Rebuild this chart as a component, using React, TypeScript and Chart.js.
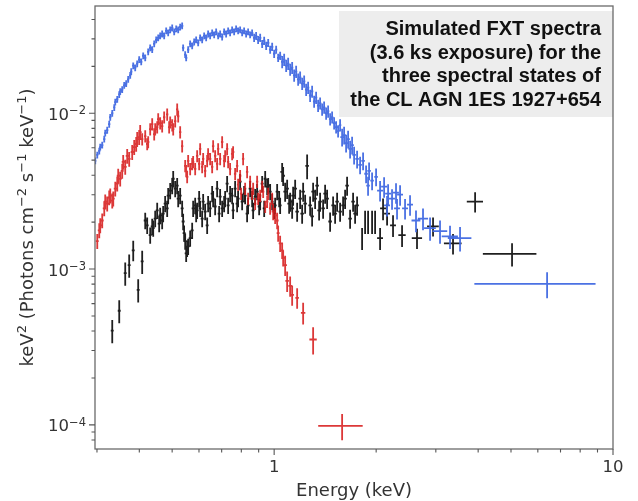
import React, { useEffect, useRef } from 'react';
import { Chart, registerables } from 'chart.js';

Chart.register(...registerables);

// Each row: [energy (keV), keV^2 flux, energy relative half-width, flux relative error]
type Row = [number, number, number, number];

const blackSpectrum: Row[] = [
  [0.3328, 4.03e-4, 0.01, 0.17], [0.3490, 5.40e-4, 0.01, 0.17], [0.3635, 9.43e-4, 0.01, 0.17],
  [0.3734, 1.06e-3, 0.01, 0.17], [0.3838, 1.32e-3, 0.01, 0.15], [0.3970, 7.35e-4, 0.01, 0.17],
  [0.4079, 1.12e-3, 0.01, 0.17],
  [0.4164, 2.05e-3, 0.01, 0.12], [0.4220, 1.91e-3, 0.01, 0.12], [0.4307, 1.65e-3, 0.01, 0.12],
  [0.4366, 1.88e-3, 0.01, 0.12], [0.4396, 1.83e-3, 0.01, 0.12], [0.4456, 2.11e-3, 0.01, 0.12],
  [0.4517, 2.38e-3, 0.01, 0.12], [0.4578, 1.96e-3, 0.01, 0.12], [0.4609, 2.21e-3, 0.01, 0.12],
  [0.4672, 2.05e-3, 0.01, 0.12], [0.4704, 2.27e-3, 0.01, 0.12], [0.4768, 2.63e-3, 0.01, 0.12],
  [0.4834, 2.45e-3, 0.01, 0.12], [0.4867, 2.96e-3, 0.01, 0.12], [0.4934, 3.19e-3, 0.01, 0.12],
  [0.5002, 3.43e-3, 0.01, 0.12], [0.5036, 3.80e-3, 0.01, 0.12], [0.5105, 3.28e-3, 0.01, 0.12],
  [0.5174, 3.43e-3, 0.01, 0.12], [0.5210, 2.83e-3, 0.01, 0.12], [0.5280, 2.96e-3, 0.01, 0.12],
  [0.5352, 2.45e-3, 0.01, 0.12], [0.5388, 2.02e-3, 0.01, 0.12], [0.5424, 1.70e-3, 0.01, 0.12],
  [0.5463, 1.51e-3, 0.01, 0.12], [0.5500, 1.26e-3, 0.01, 0.12], [0.5537, 1.36e-3, 0.01, 0.12],
  [0.5575, 1.40e-3, 0.01, 0.12], [0.5651, 1.58e-3, 0.01, 0.12], [0.5729, 1.77e-3, 0.01, 0.12],
  [0.5767, 2.45e-3, 0.01, 0.12], [0.5847, 2.56e-3, 0.01, 0.12], [0.5886, 2.27e-3, 0.01, 0.12],
  [0.5926, 2.38e-3, 0.01, 0.12], [0.6007, 2.83e-3, 0.01, 0.12], [0.6048, 2.45e-3, 0.01, 0.12],
  [0.6131, 2.11e-3, 0.01, 0.12], [0.6173, 2.71e-3, 0.01, 0.12], [0.6257, 2.34e-3, 0.01, 0.12],
  [0.6343, 1.91e-3, 0.01, 0.12], [0.6385, 2.63e-3, 0.01, 0.12], [0.6473, 2.45e-3, 0.01, 0.12],
  [0.6562, 3.05e-3, 0.01, 0.12], [0.6606, 2.83e-3, 0.01, 0.12], [0.6697, 2.52e-3, 0.01, 0.12],
  [0.6788, 3.28e-3, 0.01, 0.12], [0.6881, 2.27e-3, 0.01, 0.12], [0.6928, 2.92e-3, 0.01, 0.12],
  [0.7023, 2.45e-3, 0.01, 0.12], [0.7119, 2.63e-3, 0.01, 0.12], [0.7168, 2.83e-3, 0.01, 0.12],
  [0.7265, 3.53e-3, 0.01, 0.12], [0.7315, 2.56e-3, 0.01, 0.12], [0.7414, 3.05e-3, 0.01, 0.12],
  [0.7516, 2.96e-3, 0.01, 0.12], [0.7567, 2.38e-3, 0.01, 0.12], [0.7671, 3.28e-3, 0.01, 0.12],
  [0.7775, 2.63e-3, 0.01, 0.12], [0.7828, 2.83e-3, 0.01, 0.12], [0.7936, 3.64e-3, 0.01, 0.12],
  [0.8045, 2.71e-3, 0.01, 0.12], [0.8155, 3.05e-3, 0.01, 0.12], [0.8211, 2.96e-3, 0.01, 0.12],
  [0.8322, 2.27e-3, 0.01, 0.12], [0.8379, 2.56e-3, 0.01, 0.12], [0.8494, 3.28e-3, 0.01, 0.12],
  [0.8610, 2.83e-3, 0.01, 0.12], [0.8669, 2.38e-3, 0.01, 0.12], [0.8788, 2.92e-3, 0.01, 0.12],
  [0.8908, 3.14e-3, 0.01, 0.12], [0.9031, 2.52e-3, 0.01, 0.12], [0.9094, 2.71e-3, 0.01, 0.12],
  [0.9218, 3.53e-3, 0.01, 0.12], [0.9345, 2.45e-3, 0.01, 0.12], [0.9409, 3.80e-3, 0.01, 0.12],
  [0.9537, 3.38e-3, 0.01, 0.12], [0.9603, 3.43e-3, 0.01, 0.12], [0.9732, 3.14e-3, 0.01, 0.12],
  [0.9866, 2.71e-3, 0.01, 0.12], [1.0000, 2.38e-3, 0.01, 0.12], [1.0068, 2.56e-3, 0.01, 0.12],
  [1.0206, 3.14e-3, 0.01, 0.12], [1.0346, 2.83e-3, 0.01, 0.12], [1.0416, 2.56e-3, 0.01, 0.12],
  [1.0559, 4.21e-3, 0.012, 0.14], [1.0631, 3.97e-3, 0.012, 0.14], [1.0776, 3.14e-3, 0.012, 0.14],
  [1.0923, 3.28e-3, 0.012, 0.14], [1.1072, 2.63e-3, 0.012, 0.14], [1.1148, 2.71e-3, 0.012, 0.14],
  [1.1301, 2.45e-3, 0.012, 0.14], [1.1377, 2.96e-3, 0.012, 0.14], [1.1534, 3.28e-3, 0.012, 0.14],
  [1.1691, 2.34e-3, 0.012, 0.14], [1.1931, 2.83e-3, 0.012, 0.14], [1.2095, 2.27e-3, 0.012, 0.14],
  [1.2177, 3.14e-3, 0.012, 0.14], [1.2344, 2.63e-3, 0.012, 0.14], [1.2512, 4.60e-3, 0.012, 0.18],
  [1.2769, 2.56e-3, 0.012, 0.14], [1.2944, 2.18e-3, 0.012, 0.14], [1.3032, 3.14e-3, 0.012, 0.14],
  [1.3211, 2.83e-3, 0.012, 0.14], [1.3391, 3.43e-3, 0.012, 0.14], [1.3573, 2.38e-3, 0.012, 0.14],
  [1.3666, 2.71e-3, 0.012, 0.14], [1.3947, 2.45e-3, 0.012, 0.14], [1.4139, 3.05e-3, 0.012, 0.14],
  [1.4332, 2.83e-3, 0.012, 0.14], [1.4627, 2.02e-3, 0.012, 0.14], [1.4928, 2.56e-3, 0.012, 0.14],
  [1.5133, 2.27e-3, 0.012, 0.14], [1.5340, 2.71e-3, 0.012, 0.14], [1.5654, 2.34e-3, 0.012, 0.14],
  [1.5976, 2.56e-3, 0.012, 0.14], [1.6195, 2.83e-3, 0.012, 0.14], [1.6416, 3.43e-3, 0.012, 0.14],
  [1.6754, 2.11e-3, 0.012, 0.14], [1.7099, 2.71e-3, 0.012, 0.14], [1.7334, 2.27e-3, 0.012, 0.14],
  [1.7570, 2.56e-3, 0.012, 0.14],
  [1.8178, 1.58e-3, 0.006, 0.16], [1.8553, 2.02e-3, 0.006, 0.17], [1.8932, 2.02e-3, 0.006, 0.17],
  [1.9455, 2.02e-3, 0.006, 0.17], [1.9856, 2.02e-3, 0.006, 0.17],
  [2.054, 1.58e-3, 0.02, 0.16], [2.096, 2.45e-3, 0.02, 0.16], [2.154, 2.27e-3, 0.02, 0.16],
  [2.243, 1.91e-3, 0.02, 0.16], [2.385, 1.65e-3, 0.025, 0.16], [2.640, 1.58e-3, 0.035, 0.15],
  [2.944, 1.88e-3, 0.04, 0.14], [3.372, 1.46e-3, 0.06, 0.15], [3.918, 2.71e-3, 0.055, 0.15],
  [5.036, 1.25e-3, 0.18, 0.17],
];

const blueSpectrum: Row[] = [
  [0.2965, 4.95e-3, 0.008, 0.05], [0.3006, 5.40e-3, 0.008, 0.05], [0.3047, 5.73e-3, 0.008, 0.05],
  [0.3067, 6.07e-3, 0.008, 0.05], [0.3109, 6.25e-3, 0.008, 0.05], [0.3152, 6.83e-3, 0.008, 0.05],
  [0.3173, 7.46e-3, 0.008, 0.05], [0.3216, 7.79e-3, 0.008, 0.05], [0.3260, 8.51e-3, 0.008, 0.05],
  [0.3283, 9.43e-3, 0.008, 0.05], [0.3328, 1.00e-2, 0.008, 0.05], [0.3374, 1.09e-2, 0.008, 0.05],
  [0.3397, 1.18e-2, 0.008, 0.05], [0.3443, 1.23e-2, 0.008, 0.05], [0.3490, 1.32e-2, 0.008, 0.05],
  [0.3513, 1.38e-2, 0.008, 0.05], [0.3561, 1.42e-2, 0.008, 0.05], [0.3610, 1.51e-2, 0.008, 0.05],
  [0.3659, 1.55e-2, 0.008, 0.05], [0.3709, 1.65e-2, 0.008, 0.05], [0.3760, 1.75e-2, 0.008, 0.05],
  [0.3786, 1.85e-2, 0.008, 0.05], [0.3838, 2.02e-2, 0.008, 0.05], [0.3890, 1.96e-2, 0.008, 0.05],
  [0.3943, 2.08e-2, 0.008, 0.05], [0.3997, 2.21e-2, 0.008, 0.05], [0.4052, 2.14e-2, 0.008, 0.05],
  [0.4107, 2.34e-2, 0.008, 0.05], [0.4164, 2.27e-2, 0.008, 0.05], [0.4249, 2.48e-2, 0.008, 0.05],
  [0.4307, 2.63e-2, 0.008, 0.05], [0.4366, 2.56e-2, 0.008, 0.05], [0.4426, 2.79e-2, 0.008, 0.05],
  [0.4486, 2.96e-2, 0.008, 0.05], [0.4548, 3.05e-2, 0.008, 0.05], [0.4609, 3.14e-2, 0.008, 0.05],
  [0.4672, 3.23e-2, 0.008, 0.05], [0.4736, 3.14e-2, 0.008, 0.05], [0.4801, 3.38e-2, 0.008, 0.05],
  [0.4867, 3.28e-2, 0.008, 0.05], [0.4934, 3.43e-2, 0.008, 0.05], [0.5002, 3.53e-2, 0.008, 0.05],
  [0.5070, 3.33e-2, 0.008, 0.05], [0.5140, 3.48e-2, 0.008, 0.05], [0.5210, 3.43e-2, 0.008, 0.05],
  [0.5280, 3.58e-2, 0.008, 0.05], [0.5352, 3.64e-2, 0.008, 0.05],
  [0.5388, 2.63e-2, 0.008, 0.05], [0.5463, 2.38e-2, 0.008, 0.05], [0.5500, 2.27e-2, 0.008, 0.05],
  [0.5575, 2.56e-2, 0.008, 0.05], [0.5651, 2.79e-2, 0.008, 0.05], [0.5729, 2.71e-2, 0.008, 0.05],
  [0.5807, 2.87e-2, 0.008, 0.05], [0.5886, 2.96e-2, 0.008, 0.05], [0.5967, 2.83e-2, 0.008, 0.05],
  [0.6048, 3.05e-2, 0.008, 0.05], [0.6131, 2.96e-2, 0.008, 0.05], [0.6215, 3.14e-2, 0.008, 0.05],
  [0.6300, 3.05e-2, 0.008, 0.05], [0.6385, 3.23e-2, 0.008, 0.05], [0.6473, 3.14e-2, 0.008, 0.05],
  [0.6562, 3.28e-2, 0.008, 0.05], [0.6652, 3.19e-2, 0.008, 0.05], [0.6743, 3.33e-2, 0.008, 0.05],
  [0.6835, 3.14e-2, 0.008, 0.05], [0.6928, 3.23e-2, 0.008, 0.05], [0.7023, 3.09e-2, 0.008, 0.05],
  [0.7119, 3.33e-2, 0.008, 0.05], [0.7216, 3.23e-2, 0.008, 0.05], [0.7315, 3.38e-2, 0.008, 0.05],
  [0.7414, 3.28e-2, 0.008, 0.05], [0.7516, 3.43e-2, 0.008, 0.05], [0.7619, 3.33e-2, 0.008, 0.05],
  [0.7722, 3.48e-2, 0.008, 0.05], [0.7828, 3.38e-2, 0.008, 0.05], [0.7936, 3.43e-2, 0.008, 0.05],
  [0.8045, 3.28e-2, 0.008, 0.05], [0.8155, 3.38e-2, 0.008, 0.05], [0.8266, 3.23e-2, 0.008, 0.05],
  [0.8379, 3.33e-2, 0.008, 0.05], [0.8494, 3.19e-2, 0.008, 0.05], [0.8610, 3.28e-2, 0.008, 0.05],
  [0.8728, 3.05e-2, 0.008, 0.06], [0.8847, 3.14e-2, 0.008, 0.06], [0.8968, 2.96e-2, 0.008, 0.06],
  [0.9094, 3.05e-2, 0.008, 0.06], [0.9218, 2.79e-2, 0.008, 0.06], [0.9345, 2.92e-2, 0.008, 0.06],
  [0.9472, 2.71e-2, 0.008, 0.06], [0.9603, 2.83e-2, 0.008, 0.06], [0.9732, 2.56e-2, 0.008, 0.06],
  [0.9866, 2.67e-2, 0.008, 0.06], [1.0000, 2.41e-2, 0.008, 0.06], [1.0137, 2.56e-2, 0.008, 0.06],
  [1.0276, 2.27e-2, 0.008, 0.06], [1.0416, 2.34e-2, 0.008, 0.06],
  [1.0559, 2.14e-2, 0.008, 0.09], [1.0703, 2.21e-2, 0.008, 0.09], [1.0850, 2.02e-2, 0.008, 0.09],
  [1.0998, 2.08e-2, 0.008, 0.09], [1.1148, 1.91e-2, 0.008, 0.09], [1.1301, 1.96e-2, 0.008, 0.09],
  [1.1455, 1.75e-2, 0.008, 0.09], [1.1612, 1.85e-2, 0.008, 0.09], [1.1771, 1.65e-2, 0.008, 0.09],
  [1.1931, 1.70e-2, 0.008, 0.09], [1.2095, 1.55e-2, 0.008, 0.09], [1.2262, 1.60e-2, 0.008, 0.09],
  [1.2428, 1.42e-2, 0.008, 0.09], [1.2597, 1.46e-2, 0.008, 0.09], [1.2769, 1.30e-2, 0.008, 0.09],
  [1.2944, 1.38e-2, 0.008, 0.09], [1.3121, 1.19e-2, 0.008, 0.09], [1.3300, 1.26e-2, 0.008, 0.09],
  [1.3482, 1.12e-2, 0.008, 0.09], [1.3666, 1.16e-2, 0.008, 0.09], [1.3853, 1.06e-2, 0.008, 0.09],
  [1.4043, 1.09e-2, 0.008, 0.09], [1.4235, 1.00e-2, 0.008, 0.09], [1.4429, 1.03e-2, 0.008, 0.09],
  [1.4627, 9.16e-3, 0.008, 0.09], [1.4827, 9.43e-3, 0.008, 0.09], [1.5030, 8.64e-3, 0.008, 0.09],
  [1.5235, 8.14e-3, 0.008, 0.09], [1.5443, 7.68e-3, 0.008, 0.09], [1.5654, 8.39e-3, 0.008, 0.09],
  [1.5868, 7.03e-3, 0.012, 0.13], [1.6086, 7.24e-3, 0.012, 0.13], [1.6305, 6.44e-3, 0.012, 0.13],
  [1.6528, 6.83e-3, 0.012, 0.13], [1.6754, 5.90e-3, 0.012, 0.13], [1.6983, 6.25e-3, 0.012, 0.13],
  [1.7216, 5.40e-3, 0.012, 0.13], [1.7570, 5.09e-3, 0.012, 0.13], [1.7932, 4.66e-3, 0.012, 0.13],
  [1.8301, 4.95e-3, 0.012, 0.13], [1.8677, 4.09e-3, 0.012, 0.13], [1.8930, 3.43e-3, 0.012, 0.14],
  [1.9062, 4.27e-3, 0.012, 0.13], [1.9455, 3.69e-3, 0.012, 0.13], [1.9990, 3.91e-3, 0.012, 0.13],
  [2.054, 3.19e-3, 0.02, 0.15], [2.111, 3.38e-3, 0.02, 0.15], [2.154, 2.56e-3, 0.02, 0.15],
  [2.169, 3.05e-3, 0.02, 0.15], [2.228, 2.83e-3, 0.02, 0.15], [2.289, 3.09e-3, 0.02, 0.15],
  [2.305, 2.45e-3, 0.02, 0.15], [2.353, 3.00e-3, 0.02, 0.15], [2.434, 2.45e-3, 0.02, 0.15],
  [2.518, 2.59e-3, 0.02, 0.15], [2.622, 2.05e-3, 0.03, 0.16], [2.750, 2.11e-3, 0.035, 0.16],
  [2.885, 1.83e-3, 0.04, 0.17], [3.087, 1.75e-3, 0.05, 0.17], [3.304, 1.62e-3, 0.055, 0.17],
  [3.537, 1.58e-3, 0.08, 0.18], [6.39, 8.03e-4, 0.39, 0.19],
];

const redSpectrum: Row[] = [
  [0.3006, 1.51e-3, 0.01, 0.11], [0.3047, 1.77e-3, 0.01, 0.11], [0.3067, 1.91e-3, 0.01, 0.11],
  [0.3109, 2.05e-3, 0.01, 0.11], [0.3152, 2.45e-3, 0.01, 0.11], [0.3173, 2.71e-3, 0.01, 0.11],
  [0.3216, 2.63e-3, 0.01, 0.11], [0.3260, 2.88e-3, 0.01, 0.11], [0.3283, 2.96e-3, 0.01, 0.11],
  [0.3328, 2.75e-3, 0.01, 0.11], [0.3351, 2.83e-3, 0.01, 0.11], [0.3397, 3.28e-3, 0.01, 0.11],
  [0.3443, 3.53e-3, 0.01, 0.11], [0.3466, 3.97e-3, 0.01, 0.11], [0.3513, 3.80e-3, 0.01, 0.11],
  [0.3561, 4.27e-3, 0.01, 0.11], [0.3585, 4.87e-3, 0.01, 0.11], [0.3635, 4.53e-3, 0.01, 0.11],
  [0.3684, 5.32e-3, 0.01, 0.11], [0.3734, 5.09e-3, 0.01, 0.11], [0.3811, 5.64e-3, 0.01, 0.11],
  [0.3864, 6.07e-3, 0.01, 0.11], [0.3916, 6.35e-3, 0.01, 0.11], [0.3943, 6.83e-3, 0.01, 0.11],
  [0.3997, 7.03e-3, 0.01, 0.11], [0.4024, 7.57e-3, 0.01, 0.11],
  [0.4079, 6.83e-3, 0.008, 0.09], [0.4164, 7.14e-3, 0.008, 0.09], [0.4220, 6.35e-3, 0.008, 0.09],
  [0.4249, 6.54e-3, 0.008, 0.09], [0.4307, 7.91e-3, 0.008, 0.09], [0.4366, 8.51e-3, 0.008, 0.09],
  [0.4426, 7.35e-3, 0.008, 0.09], [0.4456, 7.91e-3, 0.008, 0.09], [0.4517, 8.14e-3, 0.008, 0.09],
  [0.4548, 9.16e-3, 0.008, 0.09], [0.4609, 8.64e-3, 0.008, 0.09], [0.4672, 8.26e-3, 0.008, 0.09],
  [0.4736, 9.43e-3, 0.008, 0.09], [0.4834, 9.85e-3, 0.008, 0.09], [0.4899, 8.14e-3, 0.008, 0.09],
  [0.4934, 8.76e-3, 0.008, 0.09], [0.5002, 8.39e-3, 0.008, 0.09], [0.5036, 7.91e-3, 0.008, 0.09],
  [0.5105, 8.89e-3, 0.008, 0.09], [0.5174, 1.06e-2, 0.008, 0.09], [0.5210, 9.57e-3, 0.008, 0.09],
  [0.5280, 7.57e-3, 0.008, 0.09], [0.5352, 6.16e-3, 0.008, 0.09], [0.5463, 4.60e-3, 0.008, 0.09],
  [0.5500, 4.27e-3, 0.008, 0.09], [0.5537, 3.91e-3, 0.008, 0.09], [0.5575, 4.95e-3, 0.008, 0.09],
  [0.5651, 4.40e-3, 0.008, 0.09], [0.5729, 4.73e-3, 0.008, 0.09], [0.5767, 4.87e-3, 0.008, 0.09],
  [0.5847, 4.40e-3, 0.008, 0.09], [0.5926, 5.32e-3, 0.008, 0.09], [0.6007, 4.73e-3, 0.008, 0.09],
  [0.6048, 5.90e-3, 0.008, 0.09], [0.6131, 4.53e-3, 0.008, 0.09], [0.6173, 5.09e-3, 0.008, 0.09],
  [0.6257, 4.27e-3, 0.008, 0.09], [0.6343, 4.95e-3, 0.008, 0.09], [0.6385, 5.48e-3, 0.008, 0.09],
  [0.6473, 5.09e-3, 0.008, 0.09], [0.6562, 4.53e-3, 0.008, 0.09], [0.6606, 6.16e-3, 0.008, 0.09],
  [0.6697, 5.32e-3, 0.008, 0.09], [0.6788, 4.73e-3, 0.008, 0.09], [0.6835, 5.90e-3, 0.008, 0.09],
  [0.6928, 5.09e-3, 0.008, 0.09], [0.7023, 6.54e-3, 0.008, 0.09], [0.7119, 4.95e-3, 0.008, 0.09],
  [0.7168, 5.32e-3, 0.008, 0.09], [0.7265, 5.90e-3, 0.008, 0.09], [0.7315, 4.87e-3, 0.008, 0.09],
  [0.7414, 4.40e-3, 0.008, 0.09], [0.7516, 5.48e-3, 0.008, 0.09], [0.7567, 5.64e-3, 0.008, 0.09],
  [0.7671, 4.09e-3, 0.008, 0.09], [0.7775, 4.60e-3, 0.008, 0.09], [0.7828, 3.48e-3, 0.008, 0.09],
  [0.7936, 3.97e-3, 0.008, 0.09], [0.7990, 3.05e-3, 0.008, 0.09], [0.8099, 5.09e-3, 0.008, 0.09],
  [0.8211, 3.28e-3, 0.008, 0.09], [0.8322, 4.21e-3, 0.008, 0.09], [0.8379, 2.83e-3, 0.008, 0.09],
  [0.8494, 3.64e-3, 0.008, 0.09], [0.8610, 3.05e-3, 0.008, 0.09], [0.8669, 3.28e-3, 0.008, 0.09],
  [0.8788, 2.63e-3, 0.008, 0.09], [0.8908, 3.64e-3, 0.008, 0.09], [0.8968, 2.83e-3, 0.008, 0.09],
  [0.9094, 2.96e-3, 0.008, 0.09], [0.9218, 3.38e-3, 0.008, 0.09], [0.9281, 3.14e-3, 0.008, 0.09],
  [0.9409, 2.52e-3, 0.008, 0.09], [0.9537, 2.71e-3, 0.008, 0.09], [0.9603, 3.05e-3, 0.008, 0.09],
  [0.9732, 2.45e-3, 0.008, 0.09], [0.9866, 2.83e-3, 0.008, 0.09],
  [0.9933, 2.34e-3, 0.01, 0.12], [1.0068, 2.21e-3, 0.01, 0.12], [1.0206, 2.05e-3, 0.01, 0.12],
  [1.0276, 1.70e-3, 0.01, 0.12], [1.0416, 1.46e-3, 0.01, 0.12], [1.0559, 1.32e-3, 0.01, 0.12],
  [1.0631, 1.18e-3, 0.01, 0.12],
  [1.0776, 1.06e-3, 0.012, 0.15], [1.0923, 8.39e-4, 0.012, 0.15], [1.1148, 7.80e-4, 0.012, 0.15],
  [1.1301, 6.83e-4, 0.012, 0.15], [1.1691, 6.54e-4, 0.012, 0.15], [1.2177, 5.24e-4, 0.015, 0.16],
  [1.3032, 3.53e-4, 0.025, 0.2], [1.587, 9.85e-5, 0.15, 0.19],
];

const seriesOrder = ['black', 'blue', 'red'];
const seriesColors = ['rgba(0,0,0,0.88)', 'rgba(65,105,225,0.95)', 'rgba(215,28,28,0.88)'];

const xRange = [0.296, 10];
const yRange = [7.2e-5, 0.0488];

const xMajorTicks = [1, 10];
const xMajorLabels = ['1', '10'];
const xMinorTicks = [0.3, 0.4, 0.5, 0.6, 0.7, 0.8, 0.9, 2, 3, 4, 5, 6, 7, 8, 9];
const yMajorTicks = [1e-4, 1e-3, 1e-2];
const yMajorExponents = ['−4', '−3', '−2'];
const yMinorTicks = [
  8e-5, 9e-5, 2e-4, 3e-4, 4e-4, 5e-4, 6e-4, 7e-4, 8e-4, 9e-4,
  2e-3, 3e-3, 4e-3, 5e-3, 6e-3, 7e-3, 8e-3, 9e-3, 2e-2, 3e-2, 4e-2,
];

const xTitle = 'Energy (keV)';
// [text, isSuperscript]
const yTitleParts: [string, boolean][] = [
  ['keV', false], ['2', true], [' (Photons cm', false], ['−2', true], [' s', false],
  ['−1', true], [' keV', false], ['−1', true], [')', false],
];
const annotationLines = [
  'Simulated FXT spectra',
  '(3.6 ks exposure) for the',
  'three spectral states of',
  'the CL AGN 1ES 1927+654',
];

const allSeries = [blackSpectrum, blueSpectrum, redSpectrum];

const errorBarPlugin = {
  id: 'errorBars',
  afterDatasetsDraw(chart: any) {
    const { ctx, chartArea } = chart;
    const xs = chart.scales.x;
    const ys = chart.scales.y;
    ctx.save();
    ctx.beginPath();
    ctx.rect(chartArea.left, chartArea.top, chartArea.right - chartArea.left, chartArea.bottom - chartArea.top);
    ctx.clip();
    ctx.lineWidth = 1.8;
    ctx.lineCap = 'butt';
    chart.data.datasets.forEach((ds: any) => {
      const rows: Row[] = ds.rows;
      ctx.strokeStyle = ds.barColor;
      ctx.beginPath();
      rows.forEach(([e, f, re, rf]) => {
        const px = xs.getPixelForValue(e);
        const py = ys.getPixelForValue(f);
        ctx.moveTo(xs.getPixelForValue(e * (1 - re)), py);
        ctx.lineTo(xs.getPixelForValue(e * (1 + re)), py);
        ctx.moveTo(px, ys.getPixelForValue(f * (1 + rf)));
        ctx.lineTo(px, ys.getPixelForValue(f * (1 - rf)));
      });
      ctx.stroke();
    });
    ctx.restore();
  },
};

const FONT = '"DejaVu Sans", sans-serif';

const axesPlugin = {
  id: 'axesDecor',
  afterDraw(chart: any) {
    const { ctx, chartArea } = chart;
    const xs = chart.scales.x;
    const ys = chart.scales.y;
    const { left, right, top, bottom } = chartArea;
    ctx.save();

    // annotation box
    ctx.fillStyle = 'rgba(236,236,236,0.95)';
    ctx.fillRect(339, top + 5, right - 339, 106);
    ctx.fillStyle = '#111';
    ctx.font = 'bold 20px "Liberation Sans", Arial, sans-serif';
    ctx.textAlign = 'right';
    ctx.textBaseline = 'alphabetic';
    annotationLines.forEach((line, i) => {
      ctx.fillText(line, right - 12, top + 29 + i * 23.7);
    });

    // spines
    ctx.strokeStyle = '#6a6a6a';
    ctx.lineWidth = 1.3;
    ctx.strokeRect(left, top, right - left, bottom - top);

    // ticks
    ctx.strokeStyle = '#555';
    ctx.lineWidth = 1.1;
    ctx.beginPath();
    xMajorTicks.forEach((v) => {
      const p = xs.getPixelForValue(v);
      ctx.moveTo(p, bottom); ctx.lineTo(p, bottom + 6);
    });
    xMinorTicks.forEach((v) => {
      const p = xs.getPixelForValue(v);
      ctx.moveTo(p, bottom); ctx.lineTo(p, bottom + 3.5);
    });
    yMajorTicks.forEach((v) => {
      const p = ys.getPixelForValue(v);
      ctx.moveTo(left, p); ctx.lineTo(left - 6, p);
    });
    yMinorTicks.forEach((v) => {
      const p = ys.getPixelForValue(v);
      ctx.moveTo(left, p); ctx.lineTo(left - 3.5, p);
    });
    ctx.stroke();

    // tick labels
    ctx.fillStyle = '#333';
    ctx.textAlign = 'center';
    ctx.font = `16.5px ${FONT}`;
    xMajorTicks.forEach((v, i) => {
      ctx.fillText(xMajorLabels[i], xs.getPixelForValue(v), bottom + 23);
    });
    yMajorTicks.forEach((v, i) => {
      const p = ys.getPixelForValue(v);
      ctx.font = `11.5px ${FONT}`;
      const supW = ctx.measureText(yMajorExponents[i]).width;
      ctx.textAlign = 'right';
      ctx.fillText(yMajorExponents[i], left - 9, p + 1);
      ctx.font = `16.5px ${FONT}`;
      ctx.fillText('10', left - 9 - supW, p + 6.5);
    });

    // x title
    ctx.textAlign = 'center';
    ctx.font = `18px ${FONT}`;
    ctx.fillText(xTitle, (left + right) / 2, bottom + 47);

    // y title (rotated)
    ctx.save();
    ctx.translate(33, (top + bottom) / 2);
    ctx.rotate(-Math.PI / 2);
    ctx.textAlign = 'left';
    const widths = yTitleParts.map(([t, sup]) => {
      ctx.font = sup ? `13px ${FONT}` : `18px ${FONT}`;
      return ctx.measureText(t).width;
    });
    const total = widths.reduce((a, b) => a + b, 0);
    let cx = -total / 2;
    yTitleParts.forEach(([t, sup], i) => {
      ctx.font = sup ? `13px ${FONT}` : `18px ${FONT}`;
      ctx.fillText(t, cx, sup ? -7 : 0);
      cx += widths[i];
    });
    ctx.restore();

    ctx.restore();
  },
};

export default function App() {
  const canvasRef = useRef<HTMLCanvasElement>(null);

  useEffect(() => {
    document.body.style.margin = '0';
    const canvas = canvasRef.current;
    if (!canvas) return;
    const chart = new Chart(canvas, {
      type: 'scatter',
      data: {
        datasets: allSeries.map((rows, i) => ({
          label: seriesOrder[i],
          data: rows.map((r) => ({ x: r[0], y: r[1] })),
          pointRadius: 0,
          showLine: false,
          rows,
          barColor: seriesColors[i],
        })) as any,
      },
      options: {
        responsive: false,
        animation: false,
        devicePixelRatio: 1,
        layout: { padding: { top: 6, right: 25, left: 0, bottom: 0 } },
        plugins: { legend: { display: false }, tooltip: { enabled: false } },
        scales: {
          x: {
            type: 'logarithmic',
            min: xRange[0],
            max: xRange[1],
            ticks: { display: false },
            grid: { display: false },
            border: { display: false },
            afterFit: (s: any) => { s.height = 52; },
          },
          y: {
            type: 'logarithmic',
            min: yRange[0],
            max: yRange[1],
            ticks: { display: false },
            grid: { display: false },
            border: { display: false },
            afterFit: (s: any) => { s.width = 95; },
          },
        },
      } as any,
      plugins: [errorBarPlugin, axesPlugin],
    });
    return () => chart.destroy();
  }, []);

  return (
    <canvas
      ref={canvasRef}
      width={638}
      height={501}
      style={{ display: 'block', width: 638, height: 501 }}
    />
  );
}
